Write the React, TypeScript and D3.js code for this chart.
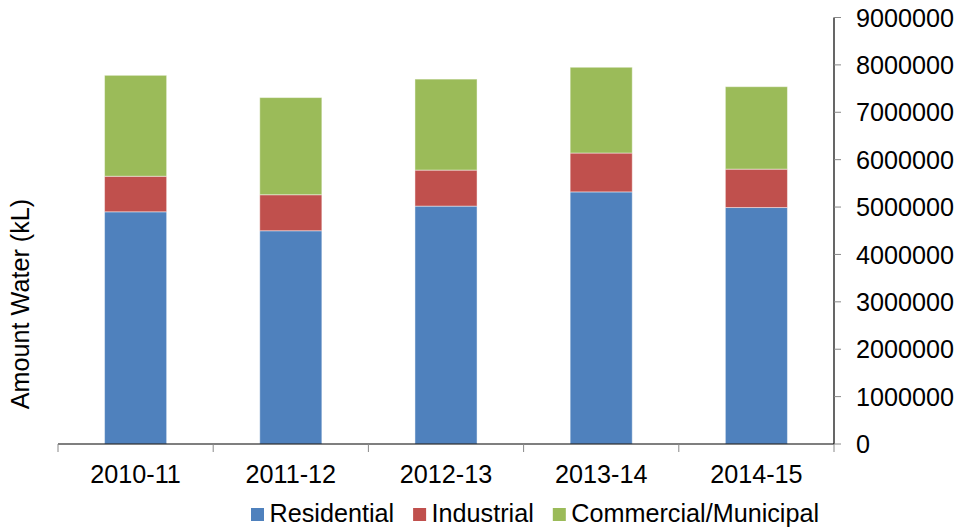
import React from "react";
import * as d3 from "d3";

const categories = ["2010-11", "2011-12", "2012-13", "2013-14", "2014-15"];
const seriesNames = ["Residential", "Industrial", "Commercial/Municipal"];
const residential = [4900000, 4500000, 5020000, 5320000, 4990000];
const industrial = [750000, 760000, 760000, 820000, 810000];
const commercial = [2130000, 2050000, 1920000, 1810000, 1740000];
const yTicks = [0, 1000000, 2000000, 3000000, 4000000, 5000000, 6000000, 7000000, 8000000, 9000000];
const colors = ["#4F81BD", "#C0504D", "#9BBB59"];
const yTitle = "Amount Water (kL)";

const W = 957;
const H = 529;
const FONT = "'Liberation Sans', Arial, sans-serif";
const FS = 25.2;

function measure(text: string): number {
  if (typeof document === "undefined") return text.length * FS * 0.5;
  const c = document.createElement("canvas").getContext("2d");
  if (!c) return text.length * FS * 0.5;
  c.font = `${FS}px ${FONT}`;
  return c.measureText(text).width;
}

export default function App() {
  const left = 58;
  const right = 834;
  const top = 17.5;
  const bottom = 444;

  const x = d3.scaleBand<string>().domain(categories).range([left, right]).paddingInner(0.6).paddingOuter(0.3);
  const y = d3.scaleLinear().domain([0, 9000000]).range([bottom, top]);

  const rows = categories.map((c, i) => ({
    cat: c,
    Residential: residential[i],
    Industrial: industrial[i],
    "Commercial/Municipal": commercial[i],
  }));
  const stack = d3.stack<any>().keys(seriesNames)(rows);

  const step = x.step();
  const boundaries = d3.range(categories.length + 1).map((i) => left + i * step);

  // legend layout
  const legendStart = 251;
  let cursor = legendStart;
  const legendItems = seriesNames.map((name, i) => {
    const item = { name, x: cursor, color: colors[i] };
    cursor += 13 + 5.5 + measure(name) + 19;
    return item;
  });

  return (
    <svg width={W} height={H} style={{ position: "absolute", left: 0, top: 0, background: "#fff" }} fontFamily={FONT}>
      {stack.map((layer, si) => (
        <g key={si} fill={colors[si]}>
          {layer.map((d, i) => (
            <rect
              key={i}
              x={x(categories[i])!}
              y={y(d[1])}
              width={x.bandwidth()}
              height={y(d[0]) - y(d[1])}
              stroke="rgba(255,255,255,0.45)"
              strokeWidth={1}
            />
          ))}
        </g>
      ))}

      {/* x axis */}
      <line x1={left} x2={right} y1={bottom} y2={bottom} stroke="#000" strokeWidth={1.2} />
      {boundaries.map((bx, i) => (
        <line key={i} x1={bx} x2={bx} y1={bottom} y2={bottom + 8} stroke="#888" strokeWidth={1} />
      ))}
      {categories.map((c) => (
        <text key={c} x={x(c)! + x.bandwidth() / 2} y={483} textAnchor="middle" fontSize={FS} fill="#000">
          {c}
        </text>
      ))}

      {/* right y axis */}
      <line x1={right} x2={right} y1={top} y2={bottom} stroke="#000" strokeWidth={1.2} />
      {yTicks.map((t) => (
        <g key={t}>
          <line x1={right} x2={right + 7} y1={y(t)} y2={y(t)} stroke="#888" strokeWidth={1} />
          <text x={856} y={y(t)} dy="0.36em" fontSize={FS} fill="#000">
            {t}
          </text>
        </g>
      ))}

      {/* y title */}
      <text transform={`translate(29,304) rotate(-90)`} textAnchor="middle" fontSize={FS} fill="#000">
        {yTitle}
      </text>

      {/* legend */}
      {legendItems.map((it) => (
        <g key={it.name}>
          <rect x={it.x} y={508} width={13} height={13} fill={it.color} />
          <text x={it.x + 18.5} y={521.5} fontSize={FS} fill="#000">
            {it.name}
          </text>
        </g>
      ))}
    </svg>
  );
}
